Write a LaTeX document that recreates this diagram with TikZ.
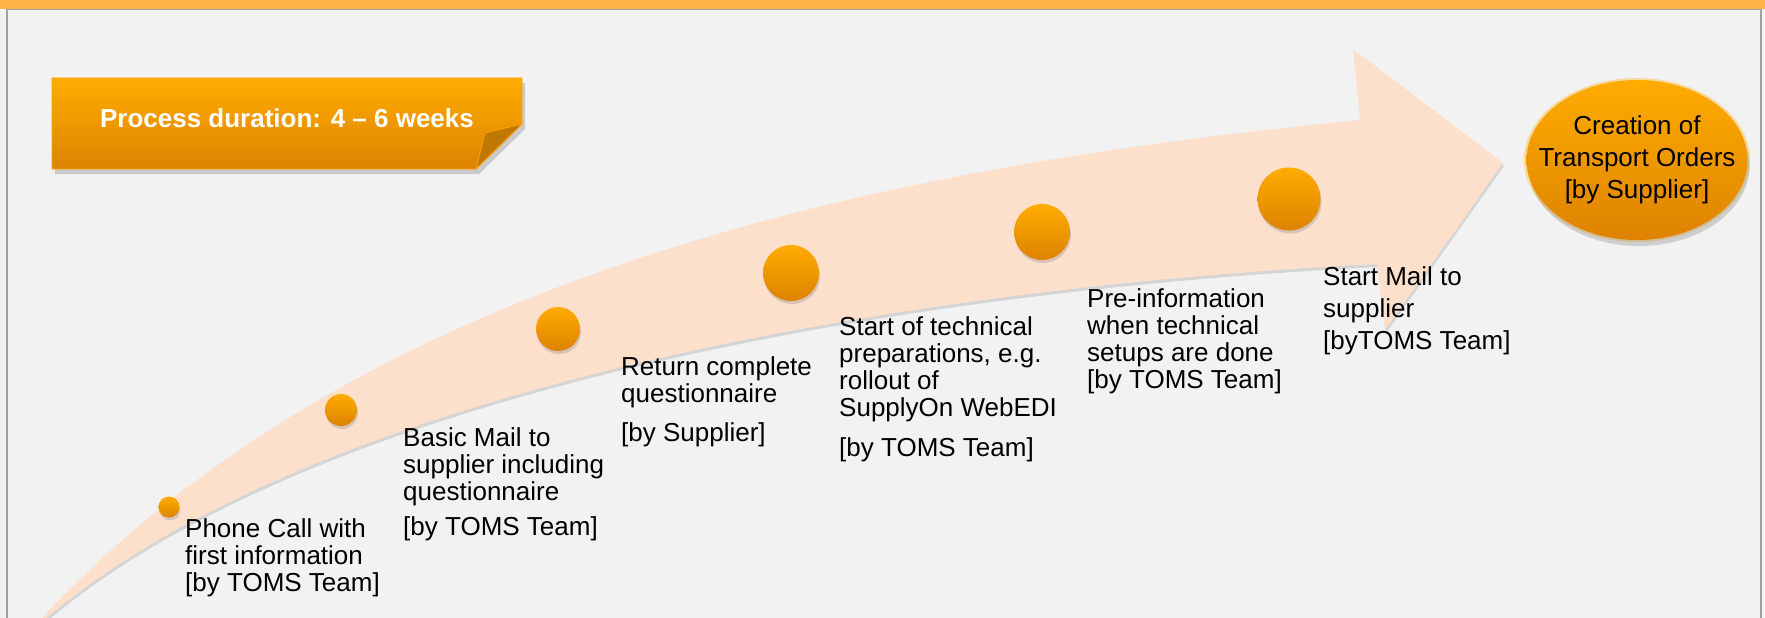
\documentclass[tikz,border=0pt]{standalone}
\usepackage{fontspec}
\setmainfont{Liberation Sans}
\usetikzlibrary{shapes.geometric,shadows}
\definecolor{bg}{RGB}{242,242,242}
\definecolor{topbar}{RGB}{255,179,71}
\definecolor{frame}{RGB}{160,160,160}
\definecolor{band}{RGB}{253,224,204}
\definecolor{orTop}{RGB}{255,172,0}
\definecolor{orBot}{RGB}{222,130,0}
\definecolor{fold}{RGB}{192,120,0}
\definecolor{boxline}{RGB}{255,160,0}
\newcommand\lblfont{\fontsize{26}{27}\selectfont}
\tikzset{
  dot/.style={circle, inner sep=0pt, draw=none, top color=orTop, bottom color=orBot,
    drop shadow={shadow xshift=1pt, shadow yshift=-3pt, opacity=0.3}},
  lbl/.style={anchor=base west, inner sep=0pt, font=\lblfont, text=black},
}
\begin{document}
\begin{tikzpicture}[x=1pt,y=-1pt]
\useasboundingbox (0,0) rectangle (1765,618);
\fill[bg] (0,0) rectangle (1765,618);
\fill[topbar] (0,0) rectangle (1765,8.8);
\draw[frame, line width=1.5pt] (7,620) -- (7,9.5) -- (1761,9.5) -- (1761,620);

% curved arrow
\path[fill=band, drop shadow={shadow xshift=1pt, shadow yshift=-3pt, opacity=0.25}]
  (40,620) .. controls (379,255) and (936,162) .. (1360,120)
  -- (1353,49) -- (1503,163) -- (1385,330) -- (1377,264)
  .. controls (841,291) and (295,405) .. (44,620) -- cycle;

% dots
\node[dot, minimum size=21pt] (d1) at (169,507) {};
\node[dot, minimum size=32pt] (d2) at (341,410) {};
\node[dot, minimum size=44pt] (d3) at (558,329) {};
\node[dot, minimum size=56pt] (d4) at (791,273) {};
\node[dot, minimum size=56pt] (d5) at (1042,232) {};
\node[dot, minimum size=63pt] (d6) at (1289,199) {};

% labels
\node[lbl] (t1) at (185,537) {\begin{tabular}[t]{@{}l@{}}Phone Call with\\first information\\{}[by TOMS Team]\end{tabular}};
\node[lbl] (t2) at (403,446) {\begin{tabular}[t]{@{}l@{}}Basic Mail to\\supplier including\\questionnaire\\[8pt]{}[by TOMS Team]\end{tabular}};
\node[lbl] (t3) at (621,375) {\begin{tabular}[t]{@{}l@{}}Return complete\\questionnaire\\[12pt]{}[by Supplier]\end{tabular}};
\node[lbl] (t4) at (839,335) {\begin{tabular}[t]{@{}l@{}}Start of technical\\preparations, e.g.\\rollout of\\SupplyOn WebEDI\\[13pt]{}[by TOMS Team]\end{tabular}};
\node[lbl] (t5) at (1087,307) {\begin{tabular}[t]{@{}l@{}}Pre-information\\when technical\\setups are done\\{}[by TOMS Team]\end{tabular}};
\node[lbl] (t6) at (1323,285) {\begin{tabular}[t]{@{}l@{}}Start Mail to\\[5pt]supplier\\[5pt]{}[byTOMS Team]\end{tabular}};

% process duration box
\path[top color=orTop, bottom color=orBot, draw=boxline, line width=0.8pt,
  drop shadow={shadow xshift=3pt, shadow yshift=-5pt, opacity=0.35}]
  (52,78) -- (522,78) -- (522,124) -- (476,169) -- (52,169) -- cycle;
\filldraw[fill=fold, draw=boxline, line width=0.8pt, line join=round] (522,124) -- (485,133) -- (476,169) -- cycle;
\node[anchor=base, inner sep=0pt, text=white, font=\fontsize{26}{30}\selectfont\bfseries] (pd) at (287,127)
  {Process duration: 4 – 6 weeks};

% final ellipse
\fill[orTop, opacity=0.35] (1637,160) ellipse [x radius=113, y radius=82];
\node[ellipse, minimum width=221pt, minimum height=160pt, inner sep=0pt,
  top color=orTop, bottom color=orBot,
  drop shadow={shadow xshift=2pt, shadow yshift=-6pt, opacity=0.3}] (E) at (1637,160) {};
\node[inner sep=0pt, font=\fontsize{26}{32}\selectfont] (Et) at (E.center)
  {\begin{tabular}{@{}c@{}}Creation of\\Transport Orders\\{}[by Supplier]\end{tabular}};
\end{tikzpicture}
\end{document}
